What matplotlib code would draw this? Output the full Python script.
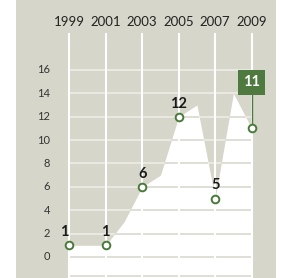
import matplotlib
matplotlib.use('Agg')
import matplotlib.pyplot as plt
from matplotlib.patches import Rectangle

plt.rcParams['font.family'] = ['Lato', 'DejaVu Sans']

# === DATA ===
years = [1999, 2000, 2001, 2002, 2003, 2004, 2005, 2006, 2007, 2008, 2009]
area_vals = [1, 1, 1, 3, 6, 7, 12, 13, 5, 14, 11]
label_years = [1999, 2001, 2003, 2005, 2007, 2009]
label_vals = [1, 1, 6, 12, 5, 11]
y_ticks = [0, 2, 4, 6, 8, 10, 12, 14, 16]

BG = '#d6d6ca'
GREEN = '#4e7a3f'

fig = plt.figure(figsize=(2.81, 2.78), dpi=100)
ax = fig.add_axes([0, 0, 1, 1])
ax.set_xlim(1995.2, 2010.61)
ax.set_ylim(-1.80, 21.98)
ax.axis('off')
ax.patch.set_visible(False)

# gray panel behind everything
ax.add_patch(Rectangle((16 / 281, 0), 260 / 281, 1, transform=ax.transAxes,
                       facecolor=BG, edgecolor='none', zorder=0))

x0, x1 = years[0], years[-1]
bottom = ax.get_ylim()[0] - 1

# gridlines on the gray part
ax.hlines(y_ticks, x0, x1, color='#ededE6', lw=1.2, zorder=1)

# white area
poly = ax.fill_between(years, area_vals, bottom, color='white', lw=0, zorder=2)

# gridlines inside the white area
hl = ax.hlines(y_ticks + [-1.63], x0, x1, color='#d9d9d0', lw=1.2, zorder=3)
hl.set_clip_path(poly.get_paths()[0], ax.transData)

# vertical gridlines
ax.vlines(label_years, bottom, 19.16, color='white', lw=1.5, zorder=4)

# markers
ax.plot(label_years, label_vals, 'o', mfc='white', mec='#4a7a3a', ms=5.5, mew=1.4, zorder=6)

# value labels
for yr, v in zip(label_years[:-1], label_vals[:-1]):
    dx = -3.5 if yr == label_years[0] else 0
    ax.annotate(str(v), (yr, v), xytext=(dx, 6.5), textcoords='offset points',
                ha='center', va='baseline', fontsize=10.5, fontweight='bold',
                color='#1a1a1a', zorder=7)

# highlighted last value
ax.plot([label_years[-1]] * 2, [label_vals[-1], 14.9], color=GREEN, lw=1, zorder=5)
ax.text(label_years[-1], 14.93, str(label_vals[-1]), ha='center', va='center',
        fontsize=10.5, fontweight='bold', color='white', zorder=8,
        bbox=dict(boxstyle='square,pad=0.35', fc=GREEN, ec='none'))

# y tick labels
for v in y_ticks:
    ax.text(1997.94, v, str(v), ha='right', va='center', fontsize=8, color='#333333')

# year labels
for yr in label_years:
    ax.text(yr, 19.76, str(yr), ha='center', va='baseline', fontsize=9.5, color='#222222')

plt.savefig('out.png', dpi=100)
plt.close()
